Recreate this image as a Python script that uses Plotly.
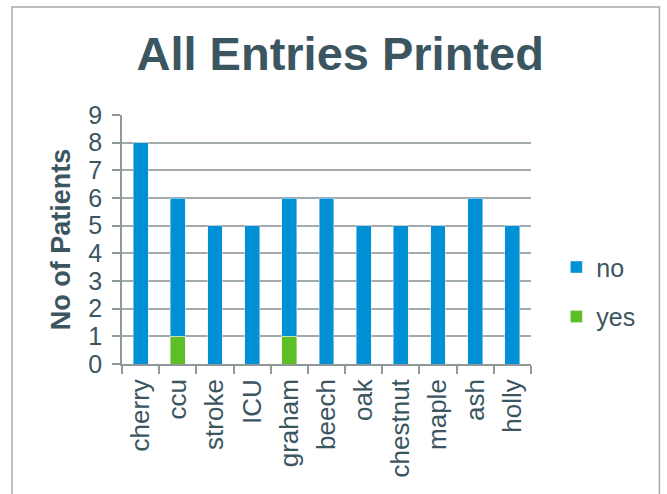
import plotly.graph_objects as go

categories = ["cherry", "ccu", "stroke", "ICU", "graham", "beech", "oak",
              "chestnut", "maple", "ash", "holly"]
no_values = [8, 5, 5, 5, 5, 6, 5, 5, 5, 6, 5]
yes_values = [0, 1, 0, 0, 1, 0, 0, 0, 0, 0, 0]
y_ticks = list(range(0, 10))

TEXT = "#3b5660"
GRID = "#a3aaad"
AXIS = "#8f989b"
FONT = "Liberation Sans, Arial, sans-serif"

fig = go.Figure()
fig.add_trace(go.Bar(x=categories, y=yes_values, name="yes",
                     marker_color="#5DBE26", legendgroup="yes", legendrank=2))
fig.add_trace(go.Bar(x=categories, y=no_values, name="no",
                     marker_color="#0090D6", legendgroup="no", legendrank=1))

fig.update_layout(
    width=667, height=494,
    barmode="stack", bargap=0.6,
    paper_bgcolor="white", plot_bgcolor="white",
    margin=dict(l=122, r=136, t=115, b=130, autoexpand=False),
    font=dict(family=FONT, color=TEXT, size=23),
    title=dict(text="<b>All Entries Printed</b>", x=0.51, xref="container",
               xanchor="center", y=0.892, yref="container", yanchor="middle",
               font=dict(size=47, color=TEXT, family=FONT)),
    legend=dict(x=1.062, xanchor="left", y=0.29, yanchor="middle",
                traceorder="grouped", tracegroupgap=14, itemwidth=30,
                font=dict(size=25, color=TEXT), bgcolor="rgba(0,0,0,0)"),
    xaxis=dict(type="category", tickson="boundaries", ticks="outside",
               ticklen=8, tickcolor=AXIS, tickwidth=1.5,
               showline=True, linecolor=AXIS, linewidth=1.5,
               tickangle=-90, tickfont=dict(size=26, color=TEXT),
               ticklabelstandoff=3,
               showgrid=False, automargin=False),
    yaxis=dict(range=[0, 9], tickvals=y_ticks, ticks="outside", ticklen=8,
               tickcolor=AXIS, tickwidth=1.5,
               showline=True, linecolor=AXIS, linewidth=1.5,
               showgrid=True, gridcolor=GRID, gridwidth=1.5,
               zeroline=False, tickfont=dict(size=25, color=TEXT),
               ticklabelstandoff=5,
               title=dict(text="<b>No of Patients</b>", standoff=10,
                          font=dict(size=27, color=TEXT)),
               automargin=False),
)

# outer frame (bottom edge is outside the visible area)
fig.add_shape(type="path", xref="paper", yref="paper",
              path="M -0.269,-0.6 L -0.269,1.434 L 1.314,1.434 L 1.314,-0.6",
              line=dict(color="#a4abae", width=1.5))

fig.write_html("out.html")
